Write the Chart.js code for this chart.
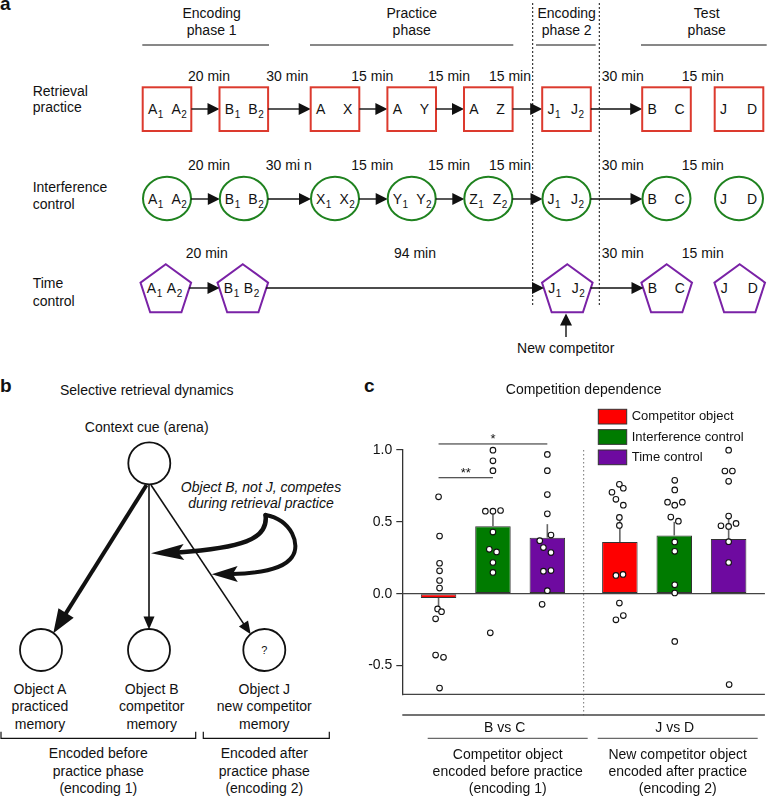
<!DOCTYPE html>
<html>
<head>
<meta charset="utf-8">
<script src="https://cdn.jsdelivr.net/npm/chart.js@4.4.1/dist/chart.umd.min.js"></script>
<style>
  html, body { margin: 0; padding: 0; background: #fff; }
  #wrap { position: relative; width: 770px; height: 797px; overflow: hidden; }
  #fig { position: absolute; left: 0; top: 0; }
  #panelC { position: absolute; left: 340px; top: 380px; }
</style>
</head>
<body>
<div id="wrap">
  <svg id="fig" width="770" height="797"></svg>
  <canvas id="panelC" width="430" height="417"></canvas>
</div>
<script>
// ---- panel c data ----
const groups = ["B vs C", "J vs D"];
const seriesNames = ["Competitor object", "Interference control", "Time control"];
const competitorMean = [-0.03, 0.36];
const interferenceMean = [0.47, 0.405];
const timeMean = [0.39, 0.38];
const competitorSem = [0.07, 0.172];
const interferenceSem = [0.105, 0.095];
const timeSem = [0.094, 0.165];
const yTicks = [-0.5, 0, 0.5, 1.0];

// single participants
const competitorBC = [0.674, 0.401, 0.212, 0.159, 0.092, 0.039, -0.106, -0.125, -0.175, -0.427, -0.443, -0.657];
const interferenceBC = [0.999, 0.925, 0.856, 0.574, 0.574, 0.579, 0.429, 0.309, 0.291, 0.217, 0.148, -0.272];
const timeBC = [0.969, 0.856, 0.690, 0.556, 0.408, 0.369, 0.321, 0.286, 0.157, 0.161, 0.021, -0.074];
const competitorJD = [0.761, 0.734, 0.706, 0.657, 0.616, 0.531, 0.475, 0.127, 0.134, -0.065, -0.152, -0.182];
const interferenceJD = [0.789, 0.722, 0.637, 0.616, 0.637, 0.533, 0.505, 0.360, 0.295, 0.062, 0.005, -0.332];
const timeJD = [0.999, 0.854, 0.854, 0.782, 0.540, 0.473, 0.468, 0.489, 0.362, 0.217, -0.632];

const groupNotes = [
  ["Competitor object", "encoded before practice", "(encoding 1)"],
  ["New competitor object", "encoded after practice", "(encoding 2)"]
];

// horizontal spread of the dots (px), layout only
const jitterPx = [
  [[0, 1, 1, 1, 1, 1, -1, 3, -3, -3, 5, 1], [-0.5, 3.5, -8, -4, 3.5, -0.5, -0.5, -4, 3.2, -0.5, 3.5, -4]],
  [[0, 0, 0, -7.7, 0, 7.7, 0, -3.7, 3.7, 0, 0, -2.7], [0.5, 0.5, -6.8, 0.5, 8.2, -3.5, 4.2, 0.5, 0.5, 0.5, 0.5, 0.5]],
  [[0, 0, 0, 0, 3.7, -7.7, -4, 3.7, -4, 3.7, 0, -5.3], [0, -3.8, 3.8, 0, 0, -7.8, 0, 7.5, 0, 0, 0.5]]
];

const FONT = '"Liberation Sans", Arial, Helvetica, sans-serif';
const seriesColors = ["#fe0000", "#007b00", "#6e0aa0"];
const meanSets = [competitorMean, interferenceMean, timeMean];
const semSets = [competitorSem, interferenceSem, timeSem];
const pointSets = [[competitorBC, competitorJD], [interferenceBC, interferenceJD], [timeBC, timeJD]];
const pxUnit = 2 / 367.7;

// ---- panels a and b (diagrams, svg) ----
let s = "";
const T = (x, y, str, size = 14, anchor = "middle", extra = "") => {
  s += `<text x="${x}" y="${y}" font-size="${size}" text-anchor="${anchor}" ${extra}>${str}</text>`;
};
const L = (x1, y1, x2, y2, w = 1, extra = "") => {
  s += `<line x1="${x1}" y1="${y1}" x2="${x2}" y2="${y2}" stroke="#111" stroke-width="${w}" ${extra}/>`;
};
function head(tx, ty, fx, fy, len, hw, notch = 0) {
  const dx = tx - fx, dy = ty - fy, d = Math.hypot(dx, dy);
  const ux = dx / d, uy = dy / d, nx = -uy, ny = ux;
  const bx = tx - ux * len, by = ty - uy * len;
  const mx = tx - ux * (len - notch), my = ty - uy * (len - notch);
  s += `<polygon points="${tx},${ty} ${bx + nx * hw},${by + ny * hw} ${mx},${my} ${bx - nx * hw},${by - ny * hw}" fill="#111"/>`;
}
function arrow(x1, y1, x2, y2, w = 1.4, len = 12, hw = 6) {
  const d = Math.hypot(x2 - x1, y2 - y1);
  L(x1, y1, x2 - (x2 - x1) / d * (len - 1), y2 - (y2 - y1) / d * (len - 1), w);
  head(x2, y2, x1, y1, len, hw);
}
function glyph(x, y, t) {
  s += `<text x="${x}" y="${y}" font-size="14">${t[0]}<tspan font-size="10" dx="0.5" dy="3.5">${t.slice(1)}</tspan></text>`;
}
function pair(cx, y, a, b, second) {
  glyph(cx - 19, y, a);
  glyph(cx + (second !== undefined ? second : (a.length > 1 ? 4.5 : 8)), y, b);
}

// panel a
T(0, 10, "a", 19, "start", 'font-weight="bold"');
const headers = [[211.7, "Encoding", "phase 1", 142.3, 269], [411.7, "Practice", "phase", 310, 513.3],
                 [566.7, "Encoding", "phase 2", 536, 595.7], [706.7, "Test", "phase", 641, 766.7]];
headers.forEach(h => { T(h[0], 17.5, h[1]); T(h[0], 34.5, h[2]); L(h[3], 45, h[4], 45, 1); });
L(532.7, 3, 532.7, 307, 1, 'stroke-dasharray="2,2"');
L(599.3, 3, 599.3, 307, 1, 'stroke-dasharray="2,2"');

T(32.7, 95.5, "Retrieval", 14, "start"); T(32.7, 112, "practice", 14, "start");
T(32.7, 191.5, "Interference", 14, "start"); T(32.7, 208.5, "control", 14, "start");
T(32.7, 288.3, "Time", 14, "start"); T(32.7, 305.5, "control", 14, "start");

const delays1 = [[209, "20 min"], [287.3, "30 min"], [372.3, "15 min"], [449, "15 min"], [510, "15 min"], [622.7, "30 min"], [702.7, "15 min"]];
delays1.forEach(d => T(d[0], 81, d[1]));
delays1.forEach((d, i) => T(d[0] + (i === 1 ? 1.5 : 0), 170, i === 1 ? "30 mi n" : d[1]));
[[206.7, "20 min"], [415, "94 min"], [622.7, "30 min"], [702.7, "15 min"]].forEach(d => T(d[0], 258, d[1]));

const cxs = [167, 243.8, 335, 411.7, 488.3, 566.5, 666.5, 739];
const row1 = [["A1", "A2"], ["B1", "B2"], ["A", "X"], ["A", "Y"], ["A", "Z"], ["J1", "J2"], ["B", "C"], ["J", "D"]];
const row2 = [["A1", "A2"], ["B1", "B2"], ["X1", "X2"], ["Y1", "Y2"], ["Z1", "Z2"], ["J1", "J2"], ["B", "C"], ["J", "D"]];
cxs.forEach((cx, i) => {
  s += `<rect x="${cx - 24.3}" y="87.3" width="48.6" height="43.7" fill="none" stroke="#dc3a2e" stroke-width="2"/>`;
  pair(cx, 114, row1[i][0], row1[i][1]);
  s += `<ellipse cx="${cx}" cy="198.5" rx="24" ry="21.7" fill="none" stroke="#1f821f" stroke-width="2"/>`;
  pair(cx, 204, row2[i][0], row2[i][1]);
  if (i < 6) {
    arrow(cx + 24.3, 109, cxs[i + 1] - 24.3, 109);
    arrow(cx + 24, 199, cxs[i + 1] - 24, 199);
  }
});
const pcx = [165.8, 242.8, 567.3, 666.7, 739.7];
const row3 = [["A1", "A2"], ["B1", "B2"], ["J1", "J2"], ["B", "C"], ["J", "D"]];
pcx.forEach((cx, i) => {
  const R = 26.6, cy = 290.8;
  const pts = [0, 1, 2, 3, 4].map(k => {
    const ang = (-90 + 72 * k) * Math.PI / 180;
    return `${cx + R * Math.cos(ang)},${cy + R * Math.sin(ang)}`;
  }).join(" ");
  s += `<polygon points="${pts}" fill="none" stroke="#7a22a6" stroke-width="2"/>`;
  pair(cx, 293.3, row3[i][0], row3[i][1], i < 2 ? 1 : undefined);
});
arrow(189, 288, 219.5, 288);
arrow(266, 288, 544, 288);
arrow(590.5, 288, 643.5, 288);
arrow(566, 337, 566, 313.5);
T(565.7, 352.5, "New competitor");

// panel b
T(0, 391.5, "b", 19, "start", 'font-weight="bold"');
T(146.7, 394.5, "Selective retrieval dynamics");
T(146.7, 432, "Context cue (arena)");
[[149.3, 463.3], [41, 650], [149, 650], [264.3, 650]].forEach(c => {
  s += `<circle cx="${c[0]}" cy="${c[1]}" r="21" fill="#fff" stroke="#111" stroke-width="1.8"/>`;
});
T(264.3, 654, "?", 11);
arrow(146.5, 485, 53.3, 633.3, 4, 24, 9);
arrow(149, 485, 149, 629.5, 1.6, 13, 5.5);
arrow(151, 485, 250.7, 634.3, 1.6, 13, 5.5);
s += `<path d="M265.5,515 C269,540 240,548 178,552.5" fill="none" stroke="#111" stroke-width="4.5" stroke-linecap="round"/>`;
head(151, 553.3, 182, 552, 33, 8, 6);
s += `<path d="M265.5,515 C292,520 301,545 292,557 C283,570 255,573.5 232,574" fill="none" stroke="#111" stroke-width="4" stroke-linecap="round"/>`;
head(211.7, 574.3, 236, 574, 26, 8, 5);
T(261, 491.5, "Object B, not J, competes", 14, "middle", 'font-style="italic"');
T(261, 508, "during retrieval practice", 14, "middle", 'font-style="italic"');
[[40, ["Object A", "practiced", "memory"]], [151.7, ["Object B", "competitor", "memory"]],
 [264.3, ["Object J", "new competitor", "memory"]]].forEach(o => {
  T(o[0], 694, o[1][0]); T(o[0], 711, o[1][1]); T(o[0], 728.5, o[1][2]);
});
s += `<path d="M1,731.7 L1,738.3 L195.7,738.3 L195.7,731.7 M203.3,731.7 L203.3,738.3 L329.3,738.3 L329.3,731.7" fill="none" stroke="#111" stroke-width="1.2"/>`;
[[98.3, ["Encoded before", "practice phase", "(encoding 1)"]], [264.3, ["Encoded after", "practice phase", "(encoding 2)"]]].forEach(o => {
  T(o[0], 758.3, o[1][0]); T(o[0], 775.5, o[1][1]); T(o[0], 793.3, o[1][2]);
});
T(364, 391.5, "c", 19, "start", 'font-weight="bold"');

const fig = document.getElementById("fig");
fig.setAttribute("font-family", FONT);
fig.setAttribute("fill", "#111");
fig.innerHTML = s;

// ---- panel c (Chart.js) ----
Chart.defaults.font.family = FONT;
Chart.defaults.color = "#111";

const panelCExtras = {
  id: "panelCExtras",
  beforeDatasetsDraw(chart) {
    const { ctx, chartArea: a, scales: { y } } = chart;
    ctx.save();
    const xm = (a.left + a.right) / 2;
    ctx.strokeStyle = "#8a8a8a";
    ctx.lineWidth = 1.2;
    ctx.setLineDash([1.5, 2.5]);
    ctx.beginPath(); ctx.moveTo(xm, a.top); ctx.lineTo(xm, a.bottom + 21); ctx.stroke();
    ctx.setLineDash([]);
    ctx.strokeStyle = "#444";
    ctx.lineWidth = 1.3;
    const y0 = y.getPixelForValue(0);
    ctx.beginPath();
    ctx.moveTo(a.left, y0); ctx.lineTo(a.right, y0);
    ctx.moveTo(a.left, a.bottom); ctx.lineTo(a.right, a.bottom);
    ctx.stroke();
    ctx.restore();
  },
  afterDatasetDraw(chart, args) {
    if (args.meta.type !== "bar") return;
    const { ctx, scales: { y } } = chart;
    const k = args.index;
    ctx.save();
    ctx.strokeStyle = "#666";
    ctx.lineWidth = 1.6;
    args.meta.data.forEach((bar, g) => {
      const m = meanSets[k][g];
      const end = m + Math.sign(m) * semSets[k][g];
      ctx.beginPath();
      ctx.moveTo(bar.x, y.getPixelForValue(m));
      ctx.lineTo(bar.x, y.getPixelForValue(end));
      ctx.stroke();
    });
    ctx.restore();
  },
  afterDraw(chart) {
    const { ctx, chartArea: a, scales: { y } } = chart;
    ctx.save();
    // significance brackets (first group)
    const bars = [0, 1, 2].map(k => chart.getDatasetMeta(k).data[0]);
    [[0, 1, "**", 0.807], [0, 2, "*", 1.042]].forEach(sg => {
      const yy = y.getPixelForValue(sg[3]);
      ctx.strokeStyle = "#222"; ctx.lineWidth = 1;
      ctx.beginPath(); ctx.moveTo(bars[sg[0]].x, yy); ctx.lineTo(bars[sg[1]].x, yy); ctx.stroke();
      ctx.fillStyle = "#111"; ctx.font = `13px ${FONT}`;
      ctx.textAlign = "center"; ctx.textBaseline = "alphabetic";
      ctx.fillText(sg[2], (bars[sg[0]].x + bars[sg[1]].x) / 2, yy - 1);
    });
    // legend
    ctx.font = `13px ${FONT}`;
    ctx.textAlign = "left"; ctx.textBaseline = "middle";
    seriesNames.forEach((name, k) => {
      const top = 29.3 + k * 20.35;
      ctx.fillStyle = seriesColors[k];
      ctx.fillRect(258.3, top, 28.4, 14.7);
      ctx.strokeStyle = "#333"; ctx.lineWidth = 1;
      ctx.strokeRect(258.3, top, 28.4, 14.7);
      ctx.fillStyle = "#111";
      ctx.fillText(name, 291.7, top + 7.6);
    });
    // lower labels
    ctx.strokeStyle = "#444"; ctx.lineWidth = 1.3;
    ctx.beginPath(); ctx.moveTo(a.left, 335); ctx.lineTo(a.right, 335); ctx.stroke();
    ctx.lineWidth = 1;
    ctx.font = `14px ${FONT}`;
    ctx.textAlign = "center";
    [[87.7, 247.7], [257.7, 417.7]].forEach((seg, g) => {
      const cx = (seg[0] + seg[1]) / 2;
      ctx.beginPath(); ctx.moveTo(seg[0], 358.3); ctx.lineTo(seg[1], 358.3); ctx.stroke();
      ctx.fillText(chart.data.labels[g], cx - 3, 348);
      groupNotes[g].forEach((t, i) => ctx.fillText(t, cx, 375 + i * 17));
    });
    ctx.restore();
  }
};

const barDatasets = seriesNames.map((name, k) => ({
  type: "bar",
  label: name,
  data: meanSets[k],
  backgroundColor: seriesColors[k],
  borderColor: "#333",
  borderWidth: 1,
  borderSkipped: false,
  categoryPercentage: 0.9,
  barPercentage: 0.653,
  order: 2
}));

// dots live on the same category axis, at fractional index positions
// (parsing off means Chart.js expects them sorted by x)
const dotDatasets = seriesNames.map((name, k) => ({
  type: "scatter",
  label: name + " participants",
  parsing: false,
  data: [0, 1].flatMap(g => pointSets[k][g].map((v, i) => ({
    x: g + (k - 1) * 0.3 + jitterPx[k][g][i] * pxUnit,
    y: v
  }))).sort((p, q) => p.x - q.x),
  pointRadius: 2.8,
  pointBorderWidth: 1.1,
  pointBackgroundColor: "#fff",
  pointBorderColor: "#111",
  clip: false,
  order: 0
}));

new Chart(document.getElementById("panelC"), {
  type: "bar",
  data: { labels: groups, datasets: [...barDatasets, ...dotDatasets] },
  options: {
    responsive: false,
    animation: false,
    layout: { padding: { left: 0, right: 0, top: 0, bottom: 102.7 } },
    plugins: {
      legend: { display: false },
      tooltip: { enabled: false },
      title: {
        display: true,
        text: "Competition dependence",
        fullSize: false,
        color: "#111",
        font: { size: 14, weight: "normal" },
        padding: { top: 1.6, bottom: 51.6 }
      }
    },
    scales: {
      x: {
        type: "category", offset: true,
        display: true,
        ticks: { display: false },
        grid: { display: false, drawTicks: false },
        border: { display: false }
      },
      y: {
        min: -0.7,
        max: 1.0,
        afterBuildTicks: sc => { sc.ticks = yTicks.map(v => ({ value: v })); },
        afterFit: sc => { sc.width = 62.3; },
        ticks: { callback: v => Number(v).toFixed(1), font: { size: 14 }, color: "#111", padding: 4 },
        grid: { display: true, drawOnChartArea: false, drawTicks: true, tickLength: 6, color: "#333", lineWidth: 1.2 },
        border: { display: true, color: "#333", width: 1.3 }
      }
    }
  },
  plugins: [panelCExtras]
});
</script>
</body>
</html>
